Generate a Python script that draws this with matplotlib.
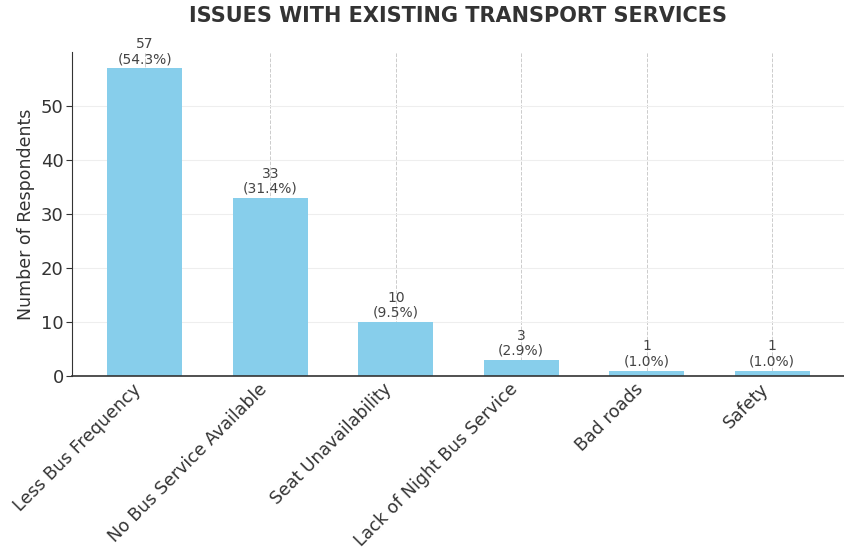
import matplotlib
matplotlib.use("Agg")
import matplotlib.pyplot as plt

categories = ["Less Bus Frequency", "No Bus Service Available", "Seat Unavailability",
              "Lack of Night Bus Service", "Bad roads", "Safety"]
counts = [57, 33, 10, 3, 1, 1]
percents = ["54.3%", "31.4%", "9.5%", "2.9%", "1.0%", "1.0%"]

fig = plt.figure(figsize=(8.45, 5.53), dpi=100)
ax = fig.add_axes([72/845, 1-376/553, (845-72)/845, (376-52)/553])

x = list(range(len(categories)))
bars = ax.bar(x, counts, width=0.6, color="#87CEEB", zorder=2)
ax.set_ylim(0, 60)
ax.set_yticks([0, 10, 20, 30, 40, 50])

for xi, c, p in zip(x, counts, percents):
    ax.text(xi, c + 0.4, f"{c}\n({p})", ha="center", va="bottom",
            fontsize=10, color="#444444", linespacing=1.1, zorder=3)

ax.set_xticks(x)
ax.set_xticklabels(categories, rotation=45, ha="right",
                   fontsize=12.5, color="#333333")
ax.tick_params(axis="y", labelsize=13, labelcolor="#333333", color="#333333",
               length=4, pad=2)
ax.tick_params(axis="x", length=0, pad=3)
ax.set_ylabel("Number of Respondents", fontsize=12.5, color="#333333", labelpad=4)

ax.set_axisbelow(True)
ax.yaxis.grid(True, color="#eeeeee", linestyle="-", linewidth=0.8)
ax.xaxis.grid(True, color="#cccccc", linestyle="--", linewidth=0.7)

for s in ["top", "right"]:
    ax.spines[s].set_visible(False)
ax.spines["left"].set_color("#333333")
ax.spines["bottom"].set_color("#333333")
ax.spines["bottom"].set_linewidth(1.2)

fig.suptitle("ISSUES WITH EXISTING TRANSPORT SERVICES", x=458/845, y=1-16/553, va="center",
             fontsize=15, fontweight="bold", color="#333333")

fig.savefig("out.png", dpi=100)
